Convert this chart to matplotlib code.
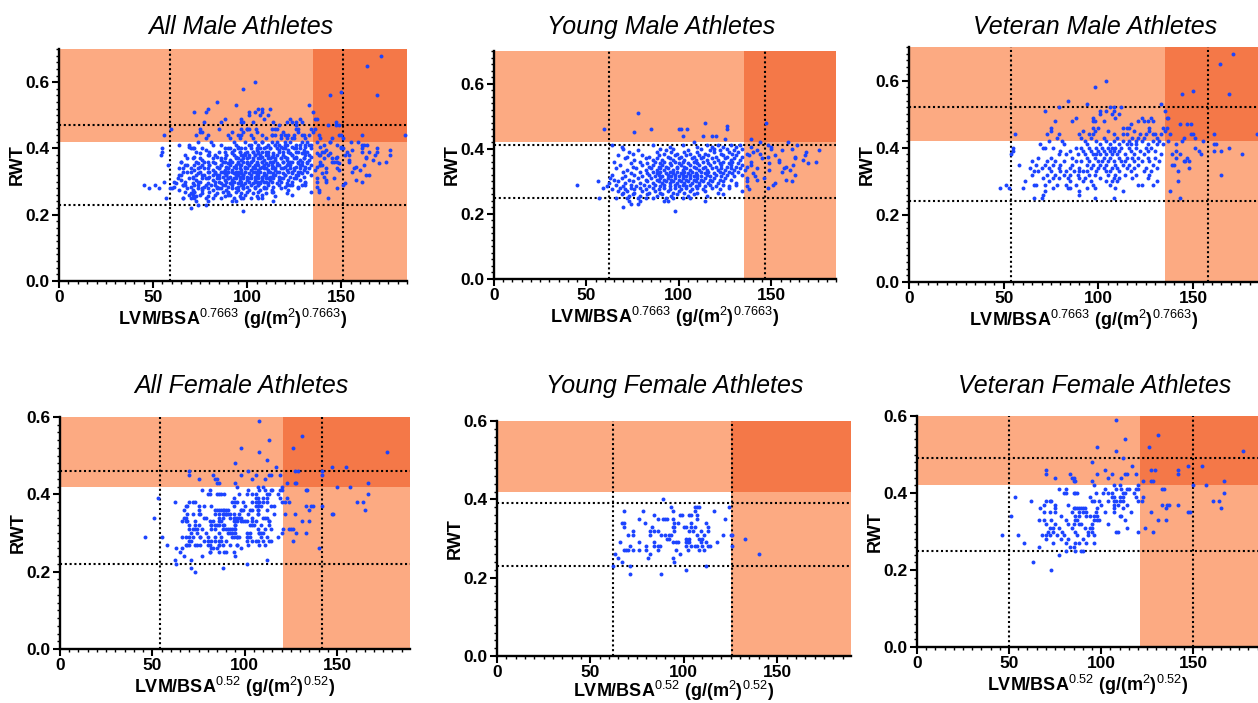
import matplotlib
matplotlib.use("Agg")
import matplotlib.pyplot as plt
from matplotlib.ticker import MultipleLocator, FormatStrFormatter

plt.rcParams['font.family'] = ['Liberation Sans', 'DejaVu Sans']
plt.rcParams['mathtext.fontset'] = 'custom'
plt.rcParams['mathtext.rm'] = 'Liberation Sans'
plt.rcParams['mathtext.it'] = 'Liberation Sans:italic'
plt.rcParams['mathtext.bf'] = 'Liberation Sans:bold'

# each row: (RWT value, [LVM/BSA values read at that RWT level])
young_male_rows = [
    (0.51, [78]),
    (0.48, [114, 147]),
    (0.47, [126]),
    (0.46, [59.5, 85, 100, 101, 104.5, 126]),
    (0.45, [76]),
    (0.44, [102, 113, 118, 120]),
    (0.43, [125, 139]),
    (0.42, [108, 144, 159]),
    (0.41, [64, 86, 102, 115, 121, 128, 133, 148, 164]),
    (0.405, [69, 95, 110, 118, 124, 131, 139, 150]),
    (0.40, [70, 90, 97, 112, 119, 126, 134, 150, 161]),
    (0.395, [78, 93, 105, 117, 122, 130, 142, 156, 176]),
    (0.39, [73, 88, 96, 103, 110, 119, 127, 132, 140, 169]),
    (0.385, [75, 92, 99, 106, 114, 123, 129, 137, 144]),
    (0.38, [67, 80, 89, 98, 104, 111, 116, 124, 131, 138, 152, 168]),
    (0.375, [72, 84, 94, 101, 108, 113, 120, 126, 134, 148, 163]),
    (0.37, [71, 82, 88, 95, 100, 107, 112, 118, 125, 130, 145, 163]),
    (0.365, [76, 86, 91, 97, 103, 109, 115, 121, 128, 133, 154, 167]),
    (0.36, [65, 79, 87, 92, 98, 102, 108, 113, 119, 124, 129, 139, 154, 174]),
    (0.355, [74, 83, 90, 95, 100, 105, 110, 116, 122, 127, 132, 149, 170]),
    (0.35, [68, 80, 86, 91, 96, 101, 106, 111, 117, 123, 128, 134, 139, 162]),
    (0.345, [75, 84, 89, 93, 99, 103, 108, 114, 120, 126, 131, 137, 158]),
    (0.34, [66, 77, 85, 90, 94, 99, 104, 109, 113, 118, 123, 128, 133, 142, 157]),
    (0.335, [72, 82, 88, 92, 97, 102, 106, 111, 115, 121, 125, 130, 136, 149, 160]),
    (0.33, [70, 79, 86, 90, 95, 99, 103, 107, 112, 116, 122, 127, 132, 156]),
    (0.325, [74, 83, 88, 93, 97, 101, 105, 109, 114, 119, 124, 129, 140]),
    (0.32, [64, 76, 84, 89, 94, 98, 102, 106, 110, 115, 120, 126, 134, 163]),
    (0.315, [71, 80, 87, 91, 96, 100, 104, 108, 112, 117, 123, 130, 141]),
    (0.31, [63, 69, 78, 85, 90, 94, 98, 102, 106, 110, 114, 119, 125, 137, 146]),
    (0.305, [65, 73, 82, 88, 92, 96, 100, 104, 108, 112, 117, 122, 128, 142, 158]),
    (0.30, [56, 67, 75, 83, 89, 93, 97, 101, 105, 109, 113, 118, 124, 137, 161]),
    (0.295, [62, 71, 79, 86, 91, 95, 99, 103, 107, 111, 116, 121, 131, 152]),
    (0.29, [45, 66, 74, 81, 87, 92, 98, 102, 106, 111, 117, 124, 131, 151]),
    (0.285, [61, 70, 77, 84, 90, 95, 100, 104, 109, 114, 120, 127, 137]),
    (0.28, [59, 68, 74, 79, 86, 92, 98, 104, 110, 118, 127, 148]),
    (0.275, [64, 71, 76, 82, 89, 95, 101, 107, 113, 122, 138]),
    (0.27, [67, 72, 80, 87, 94, 100, 106, 114, 134]),
    (0.265, [70, 76, 84, 90, 97, 103, 110, 121]),
    (0.26, [69, 75, 83, 91, 99, 108, 124]),
    (0.255, [73, 79, 88, 96, 105, 115]),
    (0.25, [57, 66, 72, 78, 82, 86, 93, 97, 102, 106]),
    (0.24, [73, 79, 92, 94, 114]),
    (0.23, [74, 78]),
    (0.22, [70]),
    (0.21, [98]),
]

veteran_male_rows = [
    (0.68, [171]),
    (0.65, [164]),
    (0.60, [104]),
    (0.58, [98]),
    (0.57, [150]),
    (0.56, [144, 169]),
    (0.54, [84]),
    (0.53, [94, 133]),
    (0.52, [79, 106, 108, 112]),
    (0.51, [72, 101, 104, 108, 135]),
    (0.50, [101, 107, 111]),
    (0.49, [88, 97, 109, 123, 128, 136, 137]),
    (0.48, [77, 86, 97, 98, 103, 121, 124, 126, 129]),
    (0.47, [117, 143, 147, 149]),
    (0.46, [75, 97, 100, 113, 115, 116, 127, 134, 136]),
    (0.45, [75, 92, 98, 105, 119, 127, 135]),
    (0.44, [56, 73, 79, 90, 95, 97, 108, 113, 115, 122, 125, 129, 130, 133, 138, 149, 150, 161,
            184]),
    (0.43, [78, 91, 96, 103, 110, 118, 121, 124, 131, 145, 151]),
    (0.42, [74, 81, 93, 99, 104, 108, 113, 116, 120, 123, 129, 132, 137, 144, 155]),
    (0.41, [69, 82, 94, 101, 106, 111, 115, 117, 120, 126, 131, 134, 141, 161, 162]),
    (0.40, [55, 71, 72, 76, 88, 91, 95, 99, 102, 105, 107, 109, 112, 116, 120, 125, 128, 151, 169]),
    (0.39, [55, 80, 85, 92, 96, 100, 103, 106, 108, 111, 117, 122, 126, 130, 141, 153, 161, 165]),
    (0.38, [54, 79, 83, 89, 93, 97, 99, 101, 104, 107, 110, 114, 119, 124, 133, 139, 143, 154,
            176]),
    (0.37, [68, 75, 86, 94, 98, 103, 106, 111, 115, 118, 121, 126, 130, 141, 147]),
    (0.36, [65, 73, 77, 82, 88, 91, 95, 100, 102, 105, 108, 112, 114, 119, 123, 127, 132, 145, 146,
            148]),
    (0.35, [58, 67, 72, 76, 80, 86, 94, 97, 101, 104, 109, 113, 116, 121, 129, 139, 140]),
    (0.34, [64, 70, 74, 79, 85, 90, 96, 100, 103, 107, 110, 115, 119, 125, 131, 148]),
    (0.33, [66, 68, 75, 80, 83, 87, 90, 92, 94, 99, 104, 106, 111, 117, 124, 128, 142]),
    (0.32, [65, 73, 77, 82, 85, 89, 95, 98, 105, 109, 114, 120, 127, 165]),
    (0.31, [71, 76, 79, 84, 90, 93, 101, 108, 111, 118, 126]),
    (0.30, [61, 74, 85, 92, 96, 104, 107, 110, 131, 142]),
    (0.29, [51, 66, 67, 72, 78, 83, 88, 97, 106, 121, 123, 129]),
    (0.28, [48, 53, 60, 76, 84, 85, 94, 98, 109]),
    (0.27, [72, 90, 113, 138]),
    (0.26, [71, 90]),
    (0.25, [66, 70, 98, 108, 143]),
]

young_female_rows = [
    (0.40, [89]),
    (0.38, [93, 106, 107, 108, 124]),
    (0.37, [68, 78, 94, 106, 116]),
    (0.36, [84, 98, 99, 103, 104, 107]),
    (0.35, [76, 86, 89, 90, 91, 94, 107, 122]),
    (0.34, [67, 68, 79, 95, 97, 104, 112]),
    (0.33, [68, 83, 94, 95, 100, 101, 104, 106, 113]),
    (0.32, [73, 82, 84, 86, 95, 103, 105, 109, 113]),
    (0.31, [70, 73, 82, 88, 90, 92, 93, 107, 111, 121, 125, 126]),
    (0.30, [91, 92, 101, 103, 108, 110, 133]),
    (0.29, [66, 76, 84, 94, 96, 97, 101, 102, 103, 109, 112, 118]),
    (0.28, [71, 80, 84, 86, 87, 101, 104, 106, 107, 110, 113, 114, 126]),
    (0.27, [68, 69, 70, 73, 76, 80, 86, 96, 102, 108, 111]),
    (0.26, [63, 82, 98, 140]),
    (0.25, [65, 81, 94]),
    (0.24, [67, 95]),
    (0.23, [62, 71, 112]),
    (0.22, [101]),
    (0.21, [71, 88]),
]

veteran_female_rows = [
    (0.59, [108]),
    (0.55, [131]),
    (0.54, [113]),
    (0.52, [98, 126]),
    (0.51, [108, 177]),
    (0.49, [112]),
    (0.48, [95]),
    (0.47, [117, 147, 155]),
    (0.46, [70, 102, 127, 129, 142]),
    (0.45, [70, 83, 98, 106, 113, 114, 119, 142]),
    (0.44, [75, 84, 85, 104, 111]),
    (0.43, [85, 86, 95, 123, 127, 128, 167]),
    (0.42, [96, 107, 110, 120, 150, 157]),
    (0.41, [77, 81, 102, 108, 111, 114, 115, 119, 120, 133, 134]),
    (0.40, [80, 81, 85, 86, 87, 97, 101, 104, 106, 112, 113, 118, 167]),
    (0.39, [53, 94, 106, 107, 110, 112, 119, 123]),
    (0.38, [62, 70, 72, 73, 95, 96, 99, 104, 107, 108, 110, 112, 120, 122, 161, 164]),
    (0.37, [69, 75, 82, 100, 107, 109, 114, 133, 136, 137, 142]),
    (0.36, [67, 75, 85, 86, 87, 88, 89, 90, 91, 98, 107, 112, 135, 165]),
    (0.35, [69, 72, 75, 84, 88, 90, 92, 97, 102, 107, 116, 127, 147, 148]),
    (0.34, [51, 78, 86, 88, 92, 94, 96, 98, 110, 111]),
    (0.33, [66, 69, 73, 81, 86, 87, 96, 98, 99, 113, 131, 135]),
    (0.32, [70, 75, 82, 85, 88, 89, 95, 104]),
    (0.31, [72, 74, 77, 84, 91, 94, 95, 114, 124]),
    (0.30, [71, 74, 79, 86, 93, 95, 108, 109, 120, 128]),
    (0.29, [46, 55, 68, 70, 72, 76, 80, 87, 93, 96]),
    (0.28, [70, 78, 82, 90]),
    (0.27, [58, 74, 81, 86, 88, 92, 96]),
    (0.26, [66, 83, 85]),
    (0.25, [81, 86, 89, 90]),
    (0.24, [77]),
    (0.22, [63]),
    (0.20, [73]),
]

titles = ["All Male Athletes", "Young Male Athletes", "Veteran Male Athletes",
          "All Female Athletes", "Young Female Athletes", "Veteran Female Athletes"]
shade_x = [135, 135, 135, 121, 125.5, 121]
shade_y = [0.42, 0.42, 0.42, 0.42, 0.42, 0.42]
cut_x = [(59, 151), (62, 146.5), (54, 158), (54, 142), (62, 126), (50, 150)]
cut_y = [(0.47, 0.23), (0.41, 0.25), (0.52, 0.24), (0.46, 0.22), (0.39, 0.23), (0.49, 0.25)]


def unpack(rows):
    xs, ys = [], []
    for y, row in rows:
        for x in row:
            xs.append(x)
            ys.append(y)
    return xs, ys


ym_x, ym_y = unpack(young_male_rows)
vm_x, vm_y = unpack(veteran_male_rows)
yf_x, yf_y = unpack(young_female_rows)
vf_x, vf_y = unpack(veteran_female_rows)
data = [(ym_x + vm_x, ym_y + vm_y), (ym_x, ym_y), (vm_x, vm_y),
        (yf_x + vf_x, yf_y + vf_y), (yf_x, yf_y), (vf_x, vf_y)]

W, H = 1258, 703
# axes boxes in pixels: left, right, top, bottom
boxes = [(59, 407, 49, 281), (494, 836, 51, 279), (909, 1258, 47, 282),
         (60, 410, 417, 649), (497, 851, 421, 656), (917, 1258, 416, 647)]
xmax = [185, 185, 184.3, 189.5, 189.5, 185.2]
ymax = [0.7, 0.7, 0.7, 0.6, 0.6, 0.6]
title_pos = [(241, 34), (661, 34), (1095, 34), (241, 393), (675, 393), (1095, 393)]
xlabel_pad = [1, 1, 1, 1, -1, 1]

LIGHT = '#fcaa82'
DARK = '#f47848'
BLUE = '#1c44ff'

fig = plt.figure(figsize=(W / 100, H / 100), dpi=100)

for i in range(6):
    l, r, t, b = boxes[i]
    ax = fig.add_axes([l / W, 1 - b / H, (r - l) / W, (b - t) / H])
    ax.set_xlim(0, xmax[i])
    ax.set_ylim(0, ymax[i])

    # risk zones
    ax.axhspan(shade_y[i], ymax[i], color=LIGHT, lw=0, zorder=0)
    ax.axvspan(shade_x[i], xmax[i], color=LIGHT, lw=0, zorder=0)
    ax.fill_between([shade_x[i], xmax[i]], shade_y[i], ymax[i], color=DARK, lw=0, zorder=0.5)

    for v in cut_x[i]:
        ax.axvline(v, color='black', lw=1.5, ls=(0, (1, 1.3)), zorder=1)
    for h in cut_y[i]:
        ax.axhline(h, color='black', lw=1.5, ls=(0, (1, 1.3)), zorder=1)

    xs, ys = data[i]
    ax.scatter(xs, ys, s=8, color=BLUE, linewidths=0, zorder=2, clip_on=False)

    for side in ['top', 'right']:
        ax.spines[side].set_visible(False)
    for side in ['left', 'bottom']:
        ax.spines[side].set_linewidth(1.7)
        ax.spines[side].set_zorder(3)

    ax.xaxis.set_major_locator(MultipleLocator(50))
    ax.xaxis.set_minor_locator(MultipleLocator(5))
    ax.yaxis.set_major_locator(MultipleLocator(0.2))
    ax.yaxis.set_minor_locator(MultipleLocator(0.02))
    ax.yaxis.set_major_formatter(FormatStrFormatter('%.1f'))
    ax.tick_params(which='major', direction='out', length=5, width=1.5, pad=1.5,
                   labelsize=12.5)
    ax.tick_params(which='minor', direction='out', length=2.5, width=1.0)
    for lab in ax.get_xticklabels() + ax.get_yticklabels():
        lab.set_fontweight('bold')

    if i < 3:
        xl = r'LVM/BSA$^{0.7663}$ (g/(m$^2$)$^{0.7663}$)'
    else:
        xl = r'LVM/BSA$^{0.52}$ (g/(m$^2$)$^{0.52}$)'
    ax.set_xlabel(xl, fontsize=13, fontweight='bold', labelpad=xlabel_pad[i])
    ax.set_ylabel('RWT', fontsize=13, fontweight='bold', labelpad=0)

    tx, ty = title_pos[i]
    fig.text(tx / W, 1 - ty / H, titles[i], fontsize=18, style='italic',
             ha='center', va='baseline')

fig.savefig('out.png', dpi=100)
